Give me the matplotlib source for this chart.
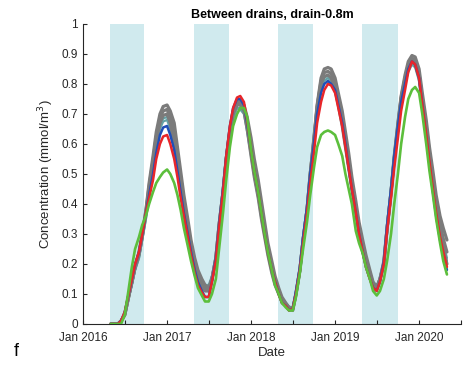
import pandas as pd
import matplotlib.pyplot as plt

plt.rcParams["font.family"] = ["Liberation Sans", "DejaVu Sans"]

# values on the 1st and 15th of each month, May 2016 .. May 2020
dates = pd.date_range("2016-05-01", "2020-05-01", freq="SMS")

gray_hi = [0, 0, 0, 0.01, 0.03, 0.08, 0.14, 0.19, 0.24, 0.30, 0.38, 0.47, 0.56, 0.64, 0.70, 0.725,
           0.73, 0.71, 0.67, 0.59, 0.51, 0.43, 0.35, 0.28, 0.22, 0.18, 0.15, 0.13, 0.12, 0.15, 0.22, 0.33, 0.44, 0.55, 0.65, 0.71, 0.74, 0.745, 0.73, 0.69,
           0.62, 0.55, 0.48, 0.41, 0.34, 0.27, 0.21, 0.16, 0.12, 0.09, 0.07, 0.055, 0.05, 0.10, 0.18, 0.28, 0.38, 0.50, 0.62, 0.73, 0.82, 0.85, 0.855, 0.85,
           0.82, 0.77, 0.71, 0.64, 0.57, 0.49, 0.41, 0.34, 0.28, 0.23, 0.18, 0.14, 0.12, 0.15, 0.20, 0.32, 0.44, 0.56, 0.67, 0.76, 0.83, 0.875, 0.895, 0.89,
           0.85, 0.77, 0.68, 0.59, 0.51, 0.43, 0.36, 0.32, 0.28]
gray_mid = [0, 0, 0, 0.01, 0.03, 0.08, 0.14, 0.19, 0.235, 0.295, 0.375, 0.46, 0.545, 0.625, 0.685, 0.71,
            0.715, 0.69, 0.635, 0.56, 0.48, 0.40, 0.32, 0.255, 0.195, 0.16, 0.135, 0.12, 0.115, 0.15, 0.22, 0.33, 0.44, 0.55, 0.645, 0.705, 0.735, 0.74, 0.72, 0.67,
            0.59, 0.52, 0.45, 0.38, 0.315, 0.25, 0.19, 0.145, 0.11, 0.083, 0.065, 0.052, 0.048, 0.10, 0.18, 0.28, 0.38, 0.50, 0.615, 0.725, 0.81, 0.838, 0.842, 0.835,
            0.80, 0.75, 0.685, 0.615, 0.545, 0.47, 0.39, 0.32, 0.26, 0.215, 0.17, 0.135, 0.12, 0.15, 0.205, 0.32, 0.44, 0.555, 0.665, 0.755, 0.82, 0.865, 0.885, 0.878,
            0.835, 0.75, 0.66, 0.57, 0.485, 0.405, 0.335, 0.285, 0.24]
gray_lo = [0, 0, 0, 0.01, 0.03, 0.08, 0.14, 0.19, 0.23, 0.29, 0.37, 0.45, 0.53, 0.61, 0.67, 0.695,
           0.70, 0.67, 0.60, 0.53, 0.45, 0.37, 0.29, 0.23, 0.17, 0.14, 0.12, 0.11, 0.11, 0.15, 0.22, 0.33, 0.44, 0.55, 0.64, 0.70, 0.73, 0.73, 0.71, 0.65,
           0.56, 0.49, 0.42, 0.35, 0.29, 0.23, 0.17, 0.13, 0.10, 0.075, 0.06, 0.048, 0.045, 0.10, 0.18, 0.28, 0.38, 0.50, 0.61, 0.72, 0.80, 0.825, 0.83, 0.82,
           0.78, 0.73, 0.66, 0.59, 0.52, 0.45, 0.37, 0.30, 0.24, 0.20, 0.16, 0.13, 0.12, 0.15, 0.21, 0.32, 0.44, 0.55, 0.66, 0.75, 0.81, 0.855, 0.875, 0.865,
           0.82, 0.73, 0.64, 0.55, 0.46, 0.38, 0.31, 0.25, 0.20]
teal_a = [0, 0, 0, 0.01, 0.03, 0.08, 0.13, 0.18, 0.22, 0.28, 0.35, 0.43, 0.52, 0.60, 0.66, 0.685,
          0.69, 0.66, 0.60, 0.53, 0.46, 0.38, 0.31, 0.25, 0.19, 0.16, 0.14, 0.13, 0.13, 0.16, 0.21, 0.31, 0.42, 0.53, 0.63, 0.69, 0.72, 0.72, 0.71, 0.65,
          0.57, 0.50, 0.43, 0.36, 0.30, 0.24, 0.18, 0.14, 0.11, 0.085, 0.07, 0.058, 0.055, 0.10, 0.17, 0.27, 0.37, 0.49, 0.60, 0.71, 0.79, 0.82, 0.83, 0.82,
          0.79, 0.74, 0.67, 0.60, 0.53, 0.45, 0.38, 0.31, 0.25, 0.21, 0.17, 0.14, 0.13, 0.15, 0.20, 0.31, 0.43, 0.54, 0.65, 0.74, 0.81, 0.85, 0.87, 0.86,
          0.82, 0.73, 0.64, 0.55, 0.47, 0.39, 0.32, 0.27, 0.22]
teal_b = [0, 0, 0, 0.01, 0.03, 0.08, 0.13, 0.18, 0.22, 0.28, 0.35, 0.42, 0.51, 0.59, 0.65, 0.675,
          0.68, 0.65, 0.59, 0.52, 0.45, 0.37, 0.30, 0.24, 0.18, 0.14, 0.12, 0.115, 0.115, 0.15, 0.20, 0.30, 0.41, 0.52, 0.62, 0.68, 0.72, 0.715, 0.70, 0.64,
          0.56, 0.49, 0.42, 0.35, 0.29, 0.23, 0.17, 0.13, 0.10, 0.075, 0.06, 0.052, 0.05, 0.10, 0.17, 0.27, 0.37, 0.48, 0.59, 0.70, 0.78, 0.81, 0.82, 0.81,
          0.78, 0.73, 0.66, 0.59, 0.52, 0.44, 0.37, 0.30, 0.24, 0.20, 0.16, 0.13, 0.12, 0.14, 0.19, 0.30, 0.42, 0.53, 0.64, 0.73, 0.80, 0.84, 0.865, 0.855,
          0.81, 0.72, 0.63, 0.54, 0.46, 0.38, 0.31, 0.26, 0.21]
blue = [0, 0, 0, 0.01, 0.04, 0.09, 0.15, 0.20, 0.24, 0.30, 0.37, 0.43, 0.50, 0.57, 0.63, 0.655,
        0.66, 0.63, 0.58, 0.51, 0.44, 0.37, 0.30, 0.24, 0.18, 0.14, 0.11, 0.09, 0.09, 0.14, 0.22, 0.33, 0.45, 0.56, 0.66, 0.72, 0.75, 0.75, 0.73, 0.67,
        0.58, 0.51, 0.44, 0.37, 0.30, 0.24, 0.18, 0.14, 0.10, 0.07, 0.06, 0.045, 0.05, 0.11, 0.19, 0.29, 0.39, 0.50, 0.60, 0.70, 0.77, 0.80, 0.81, 0.80,
        0.78, 0.73, 0.67, 0.60, 0.52, 0.45, 0.37, 0.30, 0.24, 0.19, 0.15, 0.12, 0.11, 0.14, 0.21, 0.33, 0.45, 0.56, 0.66, 0.74, 0.80, 0.85, 0.875, 0.865,
        0.82, 0.73, 0.62, 0.53, 0.44, 0.36, 0.28, 0.23, 0.18]
red = [0, 0, 0, 0.01, 0.04, 0.09, 0.15, 0.20, 0.24, 0.30, 0.37, 0.42, 0.48, 0.55, 0.60, 0.625,
       0.63, 0.60, 0.55, 0.49, 0.42, 0.36, 0.29, 0.23, 0.17, 0.13, 0.105, 0.09, 0.09, 0.14, 0.21, 0.32, 0.44, 0.56, 0.66, 0.72, 0.755, 0.76, 0.74, 0.68,
       0.58, 0.51, 0.44, 0.37, 0.30, 0.24, 0.18, 0.14, 0.10, 0.07, 0.06, 0.045, 0.05, 0.10, 0.18, 0.27, 0.37, 0.47, 0.57, 0.67, 0.74, 0.78, 0.80, 0.795,
       0.77, 0.72, 0.66, 0.59, 0.52, 0.45, 0.37, 0.30, 0.24, 0.19, 0.15, 0.12, 0.11, 0.14, 0.20, 0.31, 0.42, 0.52, 0.62, 0.71, 0.78, 0.84, 0.875, 0.865,
       0.82, 0.73, 0.63, 0.54, 0.45, 0.37, 0.29, 0.24, 0.19]
green = [0, 0, 0, 0, 0.03, 0.10, 0.19, 0.25, 0.29, 0.33, 0.36, 0.40, 0.44, 0.47, 0.49, 0.505,
         0.515, 0.50, 0.47, 0.43, 0.38, 0.32, 0.26, 0.21, 0.16, 0.12, 0.095, 0.075, 0.075, 0.10, 0.15, 0.25, 0.37, 0.48, 0.59, 0.66, 0.70, 0.72, 0.72, 0.69,
         0.58, 0.51, 0.44, 0.37, 0.30, 0.24, 0.18, 0.13, 0.10, 0.07, 0.055, 0.045, 0.045, 0.09, 0.17, 0.25, 0.34, 0.43, 0.52, 0.59, 0.63, 0.64, 0.645, 0.64,
         0.63, 0.60, 0.56, 0.50, 0.45, 0.40, 0.31, 0.27, 0.235, 0.19, 0.15, 0.11, 0.095, 0.11, 0.15, 0.21, 0.30, 0.40, 0.50, 0.60, 0.69, 0.75, 0.78, 0.79,
         0.77, 0.70, 0.60, 0.51, 0.43, 0.35, 0.27, 0.21, 0.165]

# shaded summer periods
band_starts = ["2016-04-27", "2017-04-27", "2018-04-29", "2019-04-30"]
band_ends = ["2016-09-23", "2017-09-26", "2018-09-26", "2019-10-01"]

fig = plt.figure(figsize=(4.68, 3.69), dpi=100)
ax = fig.add_axes([0.177, 0.122, 0.808, 0.813])

for s, e in zip(band_starts, band_ends):
    ax.axvspan(pd.Timestamp(s), pd.Timestamp(e), color="#d0eaee", lw=0, zorder=0)

style = dict(solid_joinstyle="round", solid_capstyle="round")
for ys in [teal_a, teal_b]:
    ax.plot(dates, ys, color="#62a2a6", lw=1.6, zorder=2, **style)
for ys in [gray_hi, gray_mid, gray_lo]:
    ax.plot(dates, ys, color="#7b7b7b", lw=2.3, zorder=3, **style)
ax.plot(dates, blue, color="#1f4fb8", lw=1.8, zorder=4, **style)
ax.plot(dates, red, color="#e8262a", lw=1.8, zorder=4, **style)
ax.plot(dates, green, color="#5cbf3c", lw=1.9, zorder=5, **style)

ax.set_xlim(pd.Timestamp("2016-01-01"), pd.Timestamp("2020-07-01"))
ax.set_ylim(0, 1)
ax.set_yticks([i / 10 for i in range(11)])
ax.set_yticklabels(["0", "0.1", "0.2", "0.3", "0.4", "0.5", "0.6", "0.7", "0.8", "0.9", "1"])

ticks = pd.date_range("2016-01-01", "2020-07-01", freq="6MS")
ax.set_xticks(ticks)
ax.set_xticklabels([t.strftime("Jan %Y") if t.month == 1 else "" for t in ticks])

ax.spines["top"].set_visible(False)
ax.spines["right"].set_visible(False)
for sp in ["left", "bottom"]:
    ax.spines[sp].set_color("#262626")
    ax.spines[sp].set_linewidth(0.8)
ax.tick_params(direction="in", length=3, width=0.8, colors="#262626", labelsize=8.5)
ax.tick_params(axis="x", pad=6)

ax.set_xlabel("Date", fontsize=9.5, color="#262626", labelpad=2)
ax.set_ylabel("Concentration (mmol/m$^3$)", fontsize=9.5, color="#262626", labelpad=4)
ax.set_title("Between drains, drain-0.8m", fontsize=9, fontweight="bold", pad=4)
fig.text(0.03, 0.035, "f", fontsize=13)

fig.savefig("out.png", dpi=100)
